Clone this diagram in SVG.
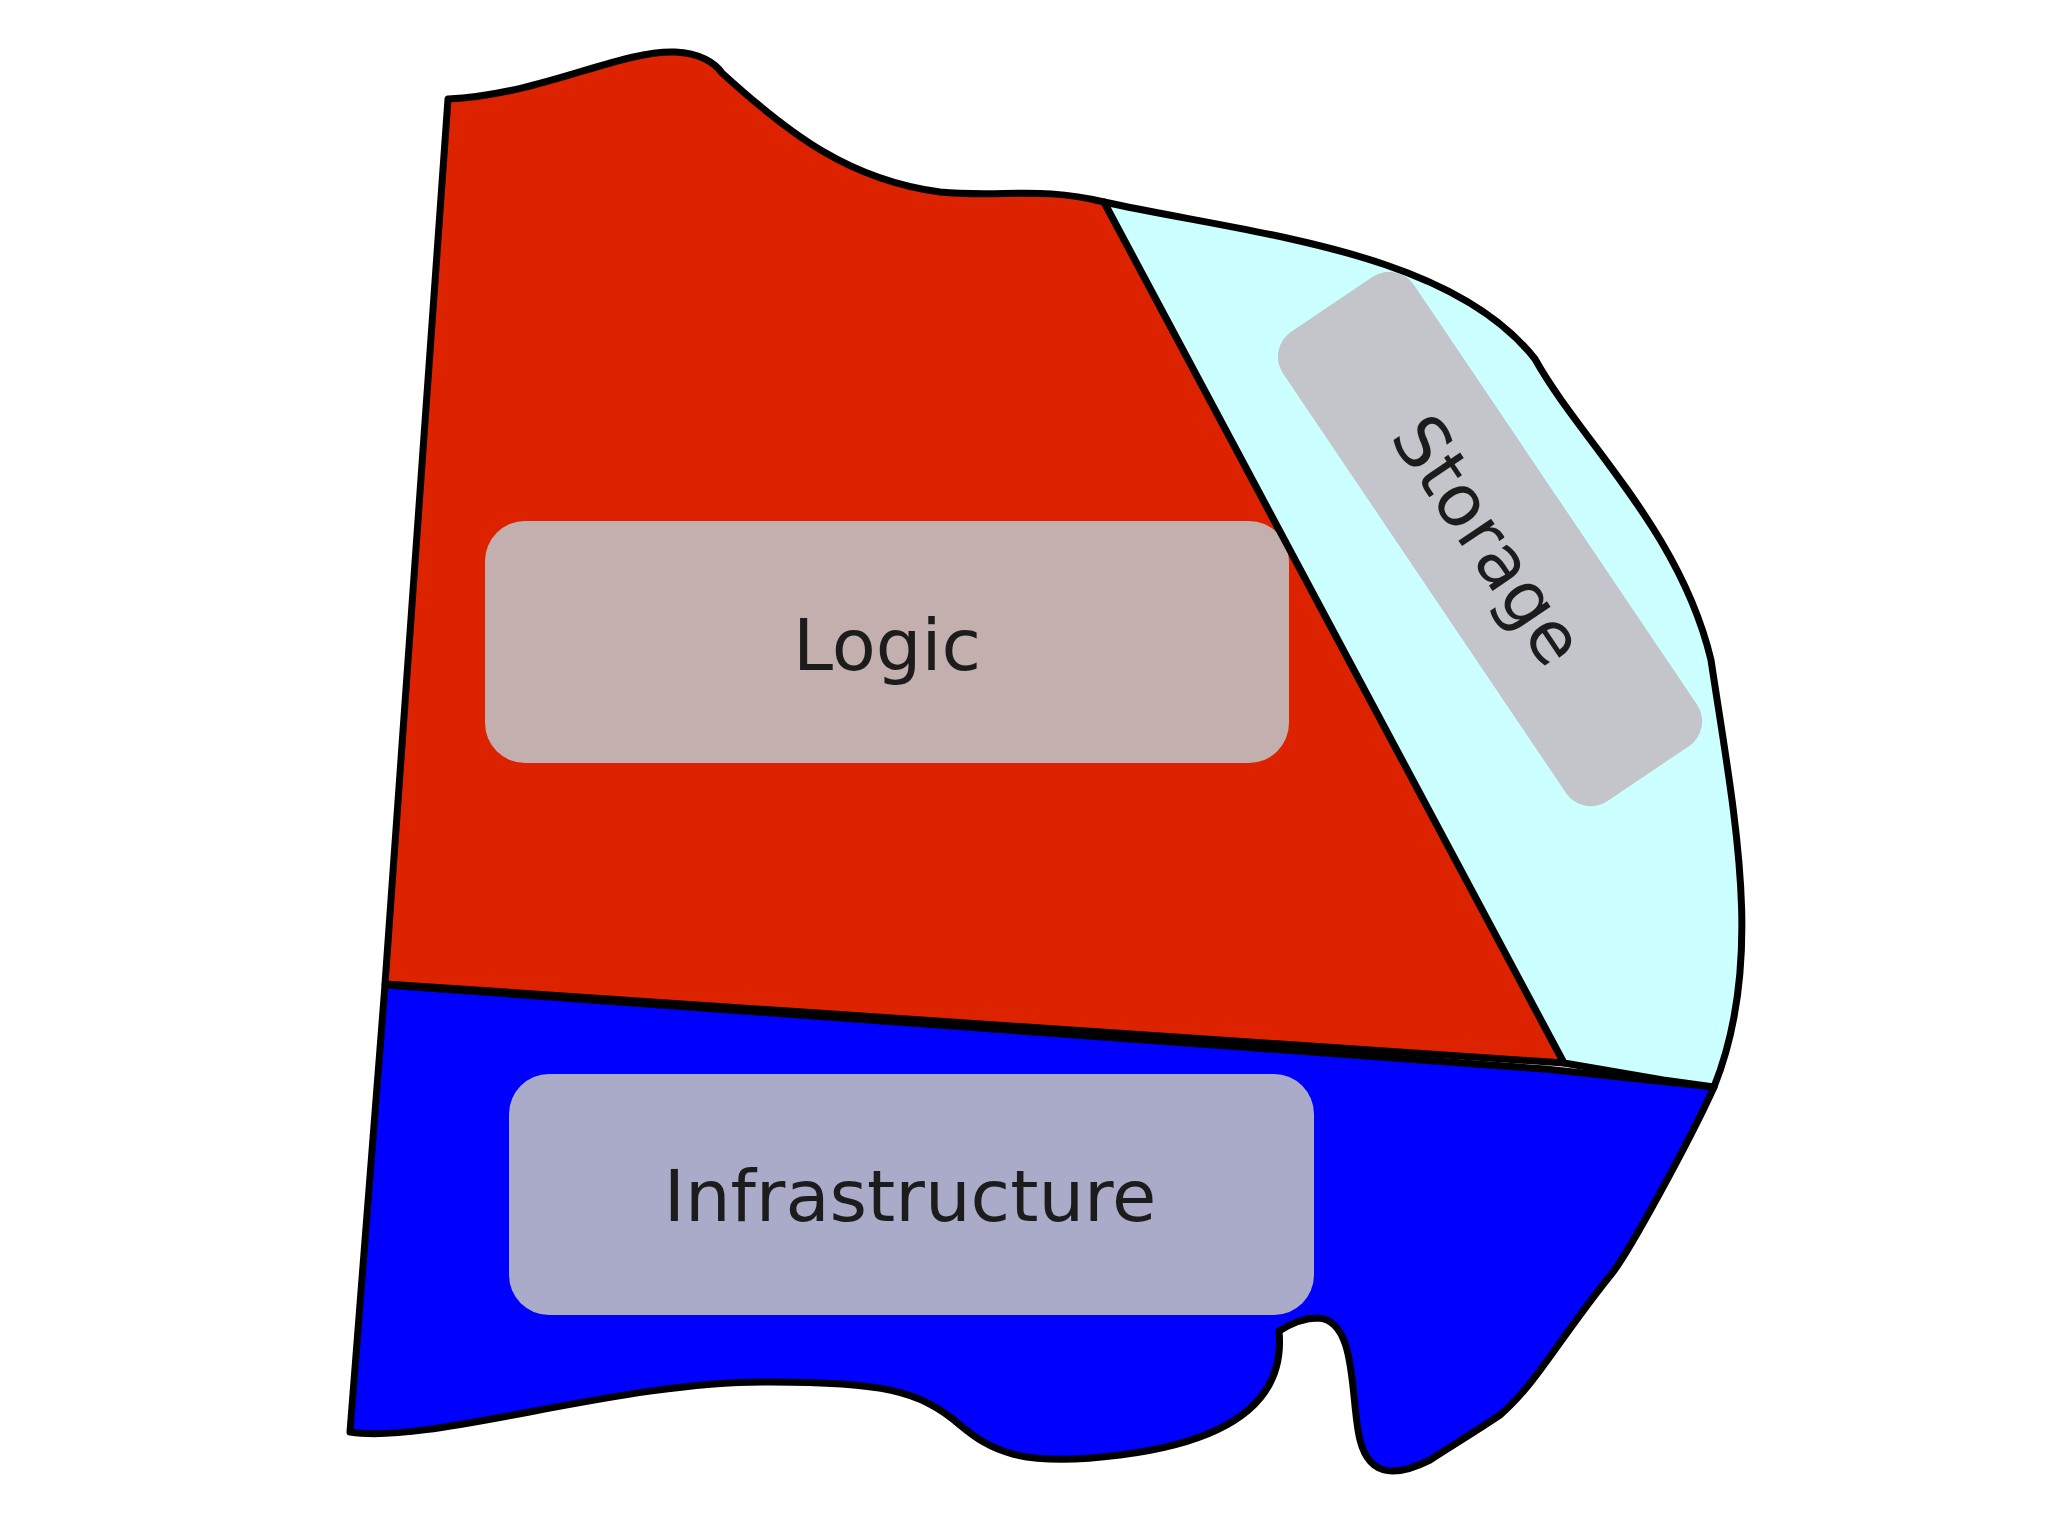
<svg xmlns="http://www.w3.org/2000/svg" width="2048" height="1535" viewBox="0 0 2048 1535">
<style>
.region{stroke:#000;stroke-width:7;stroke-linejoin:round}
.box{stroke:none}
.lbl{font-family:"DejaVu Sans","Liberation Sans",sans-serif;font-size:72px;fill:#1c1c1c;text-anchor:middle}
</style>
<rect width="2048" height="1535" fill="#ffffff"/>
<g id="infrastructure">
<path class="region" fill="#0000ff" d="M 385 985 L 1545 1069 L 1620 1077 L 1714 1087 C 1690 1140, 1625 1260, 1609 1277 C 1555 1345, 1535 1385, 1500 1415 C 1470 1435, 1445 1450, 1430 1460 C 1400 1475, 1370 1480, 1360 1440 C 1350 1400, 1358 1320, 1318 1318 C 1305 1318, 1290 1324, 1279 1331 C 1285 1395, 1240 1440, 1120 1455 C 1020 1468, 990 1450, 960 1425 C 920 1390, 880 1382, 770 1382 C 620 1380, 430 1445, 350 1432 Z"/>
<rect class="box" x="509" y="1074" width="805" height="241" rx="40" fill="#aaaac9"/>
<text class="lbl" x="910" y="1221">Infrastructure</text>
</g>
<g id="logic">
<path class="region" fill="#dd2200" d="M 448 99 C 540 95, 620 50, 675 52 C 700 53, 715 63, 722 73 C 790 135, 850 180, 940 192 C 1000 198, 1040 186, 1104 202 L 1564 1063 L 385 984 Z"/>
<rect class="box" x="485" y="521" width="804" height="242" rx="40" fill="#c3afad"/>
<text class="lbl" x="887" y="670">Logic</text>
</g>
<g id="storage">
<path class="region" fill="#ccffff" d="M 1104 202 C 1250 234, 1450 250, 1535 359 C 1580 440, 1680 530, 1711 660 C 1735 820, 1765 960, 1714 1087 L 1663 1080 L 1564 1063 Z"/>
<g transform="translate(1490,539) rotate(56)">
<rect class="box" x="-283" y="-79" width="566" height="158" rx="30" fill="#c3c5ca"/>
<text class="lbl" x="0" y="27" font-size="74">Storage</text>
</g>
</g>
<g id="connectors"></g>
</svg>
